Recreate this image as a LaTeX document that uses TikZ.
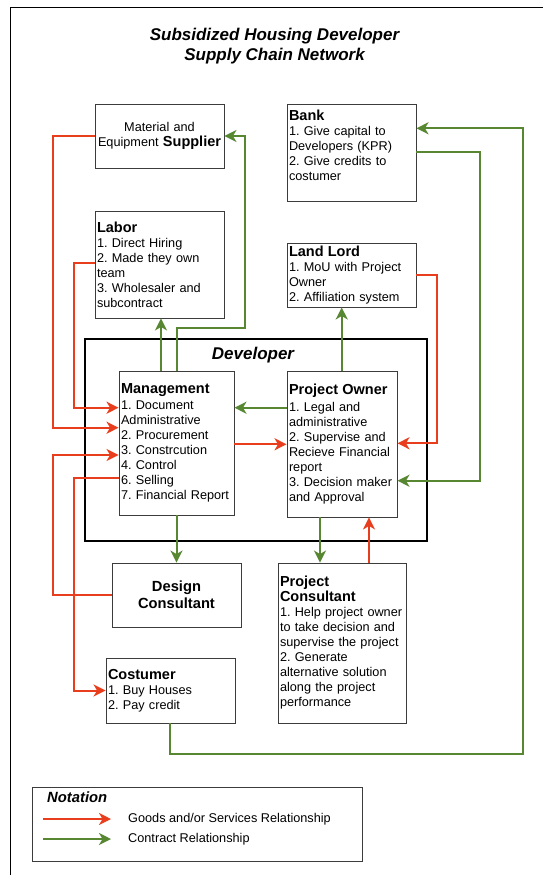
\documentclass[tikz,border=0pt]{standalone}
\usepackage{fontspec}
\setmainfont{Liberation Sans}
\usetikzlibrary{arrows.meta}
\definecolor{gsred}{RGB}{232,62,30}
\definecolor{ctgreen}{RGB}{88,135,50}
\definecolor{boxgray}{RGB}{60,60,60}
\newcommand{\hd}[1]{{\fontsize{14.5}{15}\selectfont\bfseries #1}}
\frenchspacing
\begin{document}
\frenchspacing
\begin{tikzpicture}[x=1pt,y=-1pt,
  every node/.style={font=\fontsize{12.7}{15}\selectfont},
  box/.style={draw=boxgray, line width=0.9pt, fill=white, inner xsep=2pt, inner ysep=0pt, align=left},
  goods/.style={draw=gsred, line width=2pt, line join=miter, -{Stealth[length=12pt,width=12pt,inset=3.5pt]}},
  contract/.style={draw=ctgreen, line width=2pt, line join=miter, -{Stealth[length=12pt,width=12pt,inset=3.5pt]}},
  ttl/.style={font=\fontsize{17}{20}\selectfont\bfseries\itshape, align=center}]
\useasboundingbox (0,0) rectangle (543,875);
\fill[white] (0,0) rectangle (543,875);
\draw[line width=1pt] (10,875) |- (543,8);

\node[ttl] (title) at (274.5,46.5) {Subsidized Housing Developer\\Supply Chain Network};

% Developer frame
\node[draw=black, line width=2.5pt, minimum width=342pt, minimum height=202pt, inner sep=0pt] (dev) at (256,440) {};
\node[ttl] (devlabel) at (253,355) {Developer};

% boxes
\node[box, align=center, minimum width=129pt, minimum height=64pt, text width=125pt] (supplier) at (159.5,136) {Material and\\Equipment {\fontsize{14.5}{15}\selectfont\bfseries Supplier}};
\node[box, minimum width=129pt, minimum height=97pt, text width=125pt] (bank) at (351.5,152.5) {\hd{Bank}\\1. Give capital to\\Developers (KPR)\\2. Give credits to\\costumer\\\mbox{}};
\node[box, minimum width=129pt, minimum height=107pt, text width=125pt] (labor) at (159.5,264.5) {\hd{Labor}\\1. Direct Hiring\\2. Made they own\\team\\3. Wholesaler and\\subcontract};
\node[box, minimum width=129pt, minimum height=64pt, text width=125pt] (landlord) at (351.5,275) {\hd{Land Lord}\\1. MoU with Project\\Owner\\2. Affiliation system};
\node[box, minimum width=115pt, minimum height=144pt, text width=111pt] (mgmt) at (176.5,443) {\hd{Management}\\[1.5pt]1. Document\\Administrative\\2. Procurement\\3. Constrcution\\4. Control\\6. Selling\\7. Financial Report};
\node[box, minimum width=110pt, minimum height=146pt, text width=106pt] (po) at (342,444) {\hd{Project Owner}\\[1.5pt]1. Legal and\\administrative\\2. Supervise and\\Recieve Financial\\report\\3. Decision maker\\and Approval};
\node[box, align=center, minimum width=129pt, minimum height=64pt, text width=125pt, font=\fontsize{14.7}{16.6}\selectfont\bfseries] (design) at (176.5,595) {Design\\Consultant};
\node[box, minimum width=128pt, minimum height=160pt, text width=124pt] (pc) at (342,643) {{\fontsize{14.5}{17}\selectfont\bfseries Project\\Consultant}\\1. Help project owner\\to take decision and\\supervise the project\\2. Generate\\alternative solution\\along the project\\performance};
\node[box, minimum width=129pt, minimum height=65pt, text width=125pt] (cost) at (170.5,690.5) {\hd{Costumer}\\1. Buy Houses\\2. Pay credit};

% helper coordinates
\coordinate (r1) at (53,427.7);
\coordinate (r2) at (74,407.7);
\coordinate (r3) at (53,455);
\coordinate (r4a) at (0,477.7);
\coordinate (r4) at (74,690.5);
\coordinate (r5) at (0,444.3);
\coordinate (r6) at (436.7,443.3);
\coordinate (r7) at (369,0);
\coordinate (g1) at (161,0);
\coordinate (g2) at (245,328);
\coordinate (g3) at (0,407.7);
\coordinate (g4) at (341.7,0);
\coordinate (g5y) at (0,151.7);
\coordinate (g5) at (480,480.7);
\coordinate (g6) at (169.7,754.3);
\coordinate (g6b) at (522.5,128.3);
\coordinate (g8) at (320,0);

% goods / services (red)
\draw[goods] (supplier.west) -| (r1) -- (mgmt.west |- r1);
\draw[goods] (labor.west |- 0,263.3) -| (r2) -- (mgmt.west |- r2);
\draw[goods] (design.west) -| (r3) -- (mgmt.west |- r3);
\draw[goods] (mgmt.west |- r4a) -| (r4) -- (cost.west);
\draw[goods] (mgmt.east |- r5) -- (po.west |- r5);
\draw[goods] (landlord.east) -| (r6) -- (po.east |- r6);
\draw[goods] (pc.north -| r7) -- (po.south -| r7);

% contract (green)
\draw[contract] (mgmt.north -| g1) -- (labor.south -| g1);
\draw[contract] (mgmt.north) |- (g2) |- (supplier.east);
\draw[contract] (po.west |- g3) -- (mgmt.east |- g3);
\draw[contract] (po.north -| g4) -- (landlord.south -| g4);
\draw[contract] (bank.east |- g5y) -| (g5) -- (po.east |- g5);
\draw[contract] (cost.south -| g6) -- (g6) -| (g6b) -- (bank.east |- g6b);
\draw[contract] (mgmt.south) -- (design.north);
\draw[contract] (po.south -| g8) -- (pc.north -| g8);

% notation
\node[box, minimum width=330pt, minimum height=74pt] (notation) at (197,824) {};
\node[anchor=west, inner sep=0pt, font=\fontsize{14.8}{16}\selectfont\bfseries\itshape] (nottitle) at (47,796.7) {Notation};
\coordinate (l1a) at (43,819);
\coordinate (l1b) at (111,819);
\coordinate (l2a) at (43,839);
\coordinate (l2b) at (111,839);
\draw[goods] (l1a) -- (l1b);
\draw[contract] (l2a) -- (l2b);
\node[anchor=west, inner sep=0pt] (lt1) at (128,819) {Goods and/or Services Relationship};
\node[anchor=west, inner sep=0pt] (lt2) at (128,839) {Contract Relationship};
\end{tikzpicture}
\end{document}
